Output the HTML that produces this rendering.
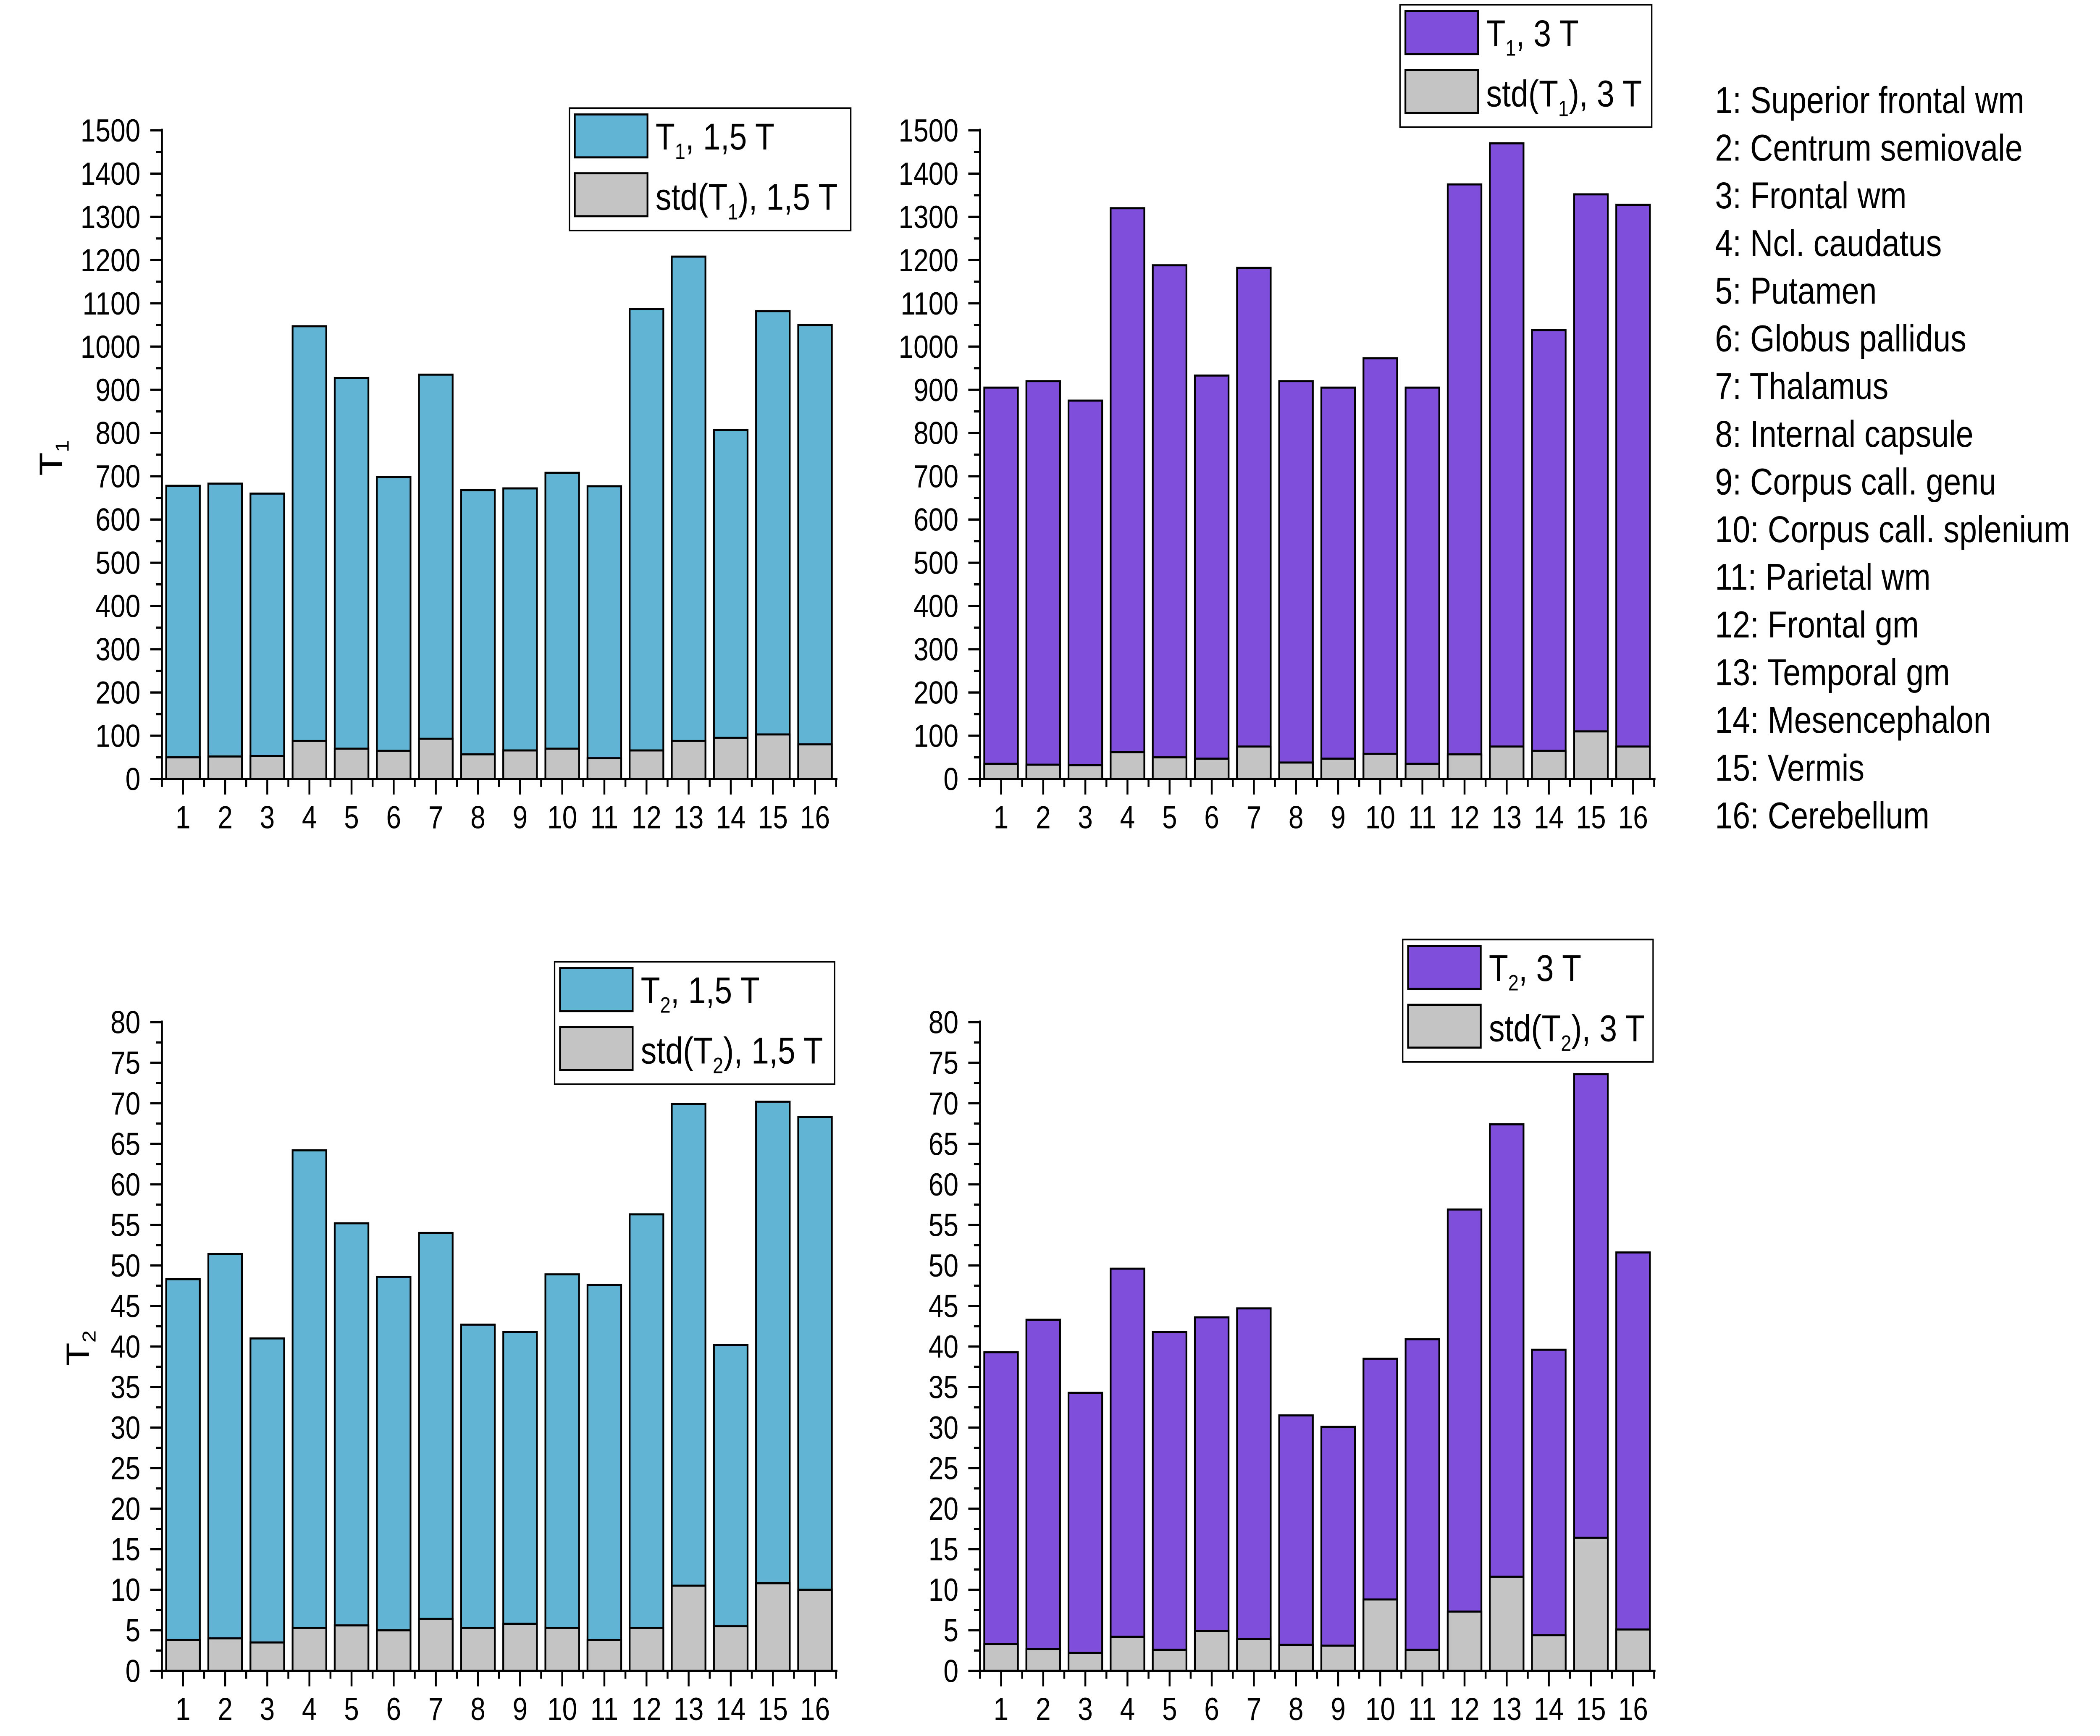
<!DOCTYPE html>
<html><head><meta charset="utf-8"><style>
html,body{margin:0;padding:0;background:#fff;overflow:hidden;width:100%;height:100%;}
svg{display:block;width:100vw;height:100vh;}
svg text{font-family:"Liberation Sans",sans-serif;fill:#000;}
</style></head><body>
<svg id="chart" viewBox="0 0 1560 1092" preserveAspectRatio="none" xmlns="http://www.w3.org/2000/svg">
<rect width="1560" height="1092" fill="#fff"/>
<g id="g1"></g>
<g id="g2"></g>
<g id="g3"></g>
<g id="g4"></g>
<g id="regions"></g>
</svg>
<script>
const categories = ["1","2","3","4","5","6","7","8","9","10","11","12","13","14","15","16"];
const t1_15 = [678,683,660,1047,927,698,935,668,672,708,677,1087,1208,807,1082,1050];
const t1_15_std = [50,52,53,88,70,65,93,57,66,70,48,66,88,95,103,80];
const t1_3 = [905,920,875,1320,1188,933,1182,920,905,973,905,1375,1470,1038,1352,1328];
const t1_3_std = [35,33,32,62,50,47,75,38,47,58,35,57,75,65,110,75];
const t2_15 = [48.3,51.4,41,64.2,55.2,48.6,54,42.7,41.8,48.9,47.6,56.3,69.9,40.2,70.2,68.3];
const t2_15_std = [3.8,4,3.5,5.3,5.6,5,6.4,5.3,5.8,5.3,3.8,5.3,10.5,5.5,10.8,10];
const t2_3 = [39.3,43.3,34.3,49.6,41.8,43.6,44.7,31.5,30.1,38.5,40.9,56.9,67.4,39.6,73.6,51.6];
const t2_3_std = [3.3,2.7,2.2,4.2,2.6,4.9,3.9,3.2,3.1,8.8,2.6,7.3,11.6,4.4,16.4,5.1];
const t1Ticks = [0,100,200,300,400,500,600,700,800,900,1000,1100,1200,1300,1400,1500];
const t2Ticks = [0,5,10,15,20,25,30,35,40,45,50,55,60,65,70,75,80];
const regionNames = ["1: Superior frontal wm","2: Centrum semiovale","3: Frontal wm","4: Ncl. caudatus","5: Putamen","6: Globus pallidus","7: Thalamus","8: Internal capsule","9: Corpus call. genu","10: Corpus call. splenium","11: Parietal wm","12: Frontal gm","13: Temporal gm","14: Mesencephalon","15: Vermis","16: Cerebellum"];

const NS="http://www.w3.org/2000/svg";
function mk(parent,tag,attrs,text){const e=document.createElementNS(NS,tag);for(const k in attrs)e.setAttribute(k,attrs[k]);if(text!==undefined)e.textContent=text;parent.appendChild(e);return e;}

function panel(g,o){
  const x0=o.x0, step=31.3, y0=o.y0, y1=o.y1, max=o.max;
  const yS=v=>y0-(v/max)*(y0-y1);
  const xC=i=>x0+step*(i+0.5);
  const bw=25;
  o.vals.forEach((v,i)=>{
    const r=mk(g,'rect',{x:xC(i)-bw/2,y:yS(v),width:bw,height:y0-yS(v),fill:o.color,stroke:'#000','stroke-width':1.3});
    
    
  });
  o.std.forEach((v,i)=>{
    const r=mk(g,'rect',{x:xC(i)-bw/2,y:yS(v),width:bw,height:y0-yS(v),fill:'#c4c4c4',stroke:'#000','stroke-width':1.3});
    
    
  });
  const xEnd=x0+step*16;
  const ya=mk(g,'line',{x1:x0,y1:y1-1,x2:x0,y2:y0+0.7,stroke:'#000','stroke-width':1.4});
  
  
  const xa=mk(g,'line',{x1:x0-0.7,y1:y0,x2:xEnd+1,y2:y0,stroke:'#000','stroke-width':1.4});
  
  
  const half=o.ticks[1]/2;
  o.ticks.forEach((t,i)=>{
    mk(g,'line',{x1:x0-8.7,y1:yS(t),x2:x0,y2:yS(t),stroke:'#000','stroke-width':1.4});
    if(i<o.ticks.length-1) mk(g,'line',{x1:x0-4.5,y1:yS(t+half),x2:x0,y2:yS(t+half),stroke:'#000','stroke-width':1.4});
    const tl=mk(g,'text',{x:x0-16,y:yS(t)+7,'text-anchor':'end','font-size':20},String(t));
    
    
  });
  for(let i=0;i<=16;i++) mk(g,'line',{x1:x0+step*i,y1:y0,x2:x0+step*i,y2:y0+5,stroke:'#000','stroke-width':1.4});
  categories.forEach((c,i)=>{
    mk(g,'line',{x1:xC(i),y1:y0,x2:xC(i),y2:y0+9.8,stroke:'#000','stroke-width':1.4});
    const tl=mk(g,'text',{x:xC(i),y:y0+31,'text-anchor':'middle','font-size':20},c);
    
    
  });
  if(o.ytitle){
    const t=mk(g,'text',{transform:`translate(${o.ytitle.x},${o.ytitle.y}) rotate(-90)`,'text-anchor':'middle','font-size':24});
    
    
    t.innerHTML=o.ytitle.s+'<tspan font-size="14" dy="5">'+o.ytitle.sub+'</tspan>';
  }
  const L=o.leg;
  const lg=mk(g,'g',{});
  
  
  mk(lg,'rect',{x:L.x,y:L.y,width:L.w,height:77,fill:'#fff',stroke:'#000','stroke-width':1});
  mk(lg,'rect',{x:L.x+4,y:L.y+4,width:54,height:27,fill:o.color,stroke:'#000','stroke-width':1.3});
  mk(lg,'rect',{x:L.x+4,y:L.y+41,width:54,height:27,fill:'#c4c4c4',stroke:'#000','stroke-width':1.3});
  const e1=mk(lg,'text',{x:L.x+64,y:L.y+26,'font-size':23.5});
  
  
  e1.innerHTML=L.sym+'<tspan font-size="14" dy="6">'+L.sub+'</tspan><tspan dy="-6">, '+L.field+'</tspan>';
  const e2=mk(lg,'text',{x:L.x+64,y:L.y+64,'font-size':23.5});
  
  
  e2.innerHTML='std('+L.sym+'<tspan font-size="14" dy="6">'+L.sub+'</tspan><tspan dy="-6">), '+L.field+'</tspan>';
}

panel(document.getElementById('g1'),{key:'t1-15',x0:120.3,y0:490,y1:82,max:1500,vals:t1_15,std:t1_15_std,color:'#62b4d4',ticks:t1Ticks,
  ytitle:{x:46,y:288,s:'T',sub:'1'},leg:{x:423,y:68,w:209,sym:'T',sub:'1',field:'1,5 T'}});
panel(document.getElementById('g2'),{key:'t1-3',x0:728,y0:490,y1:82,max:1500,vals:t1_3,std:t1_3_std,color:'#7f4fdc',ticks:t1Ticks,
  leg:{x:1040,y:3,w:187,sym:'T',sub:'1',field:'3 T'}});
panel(document.getElementById('g3'),{key:'t2-15',x0:120.3,y0:1051,y1:643,max:80,vals:t2_15,std:t2_15_std,color:'#62b4d4',ticks:t2Ticks,
  ytitle:{x:66,y:848,s:'T',sub:'2'},leg:{x:412,y:605,w:208,sym:'T',sub:'2',field:'1,5 T'}});
panel(document.getElementById('g4'),{key:'t2-3',x0:728,y0:1051,y1:643,max:80,vals:t2_3,std:t2_3_std,color:'#7f4fdc',ticks:t2Ticks,
  leg:{x:1042,y:591,w:186,sym:'T',sub:'2',field:'3 T'}});

const rg=document.getElementById('regions');
regionNames.forEach((n,i)=>{
  const t=mk(rg,'text',{x:1274,y:71+30*i,'font-size':23.5},n);
  
  
});
</script>
</body></html>
